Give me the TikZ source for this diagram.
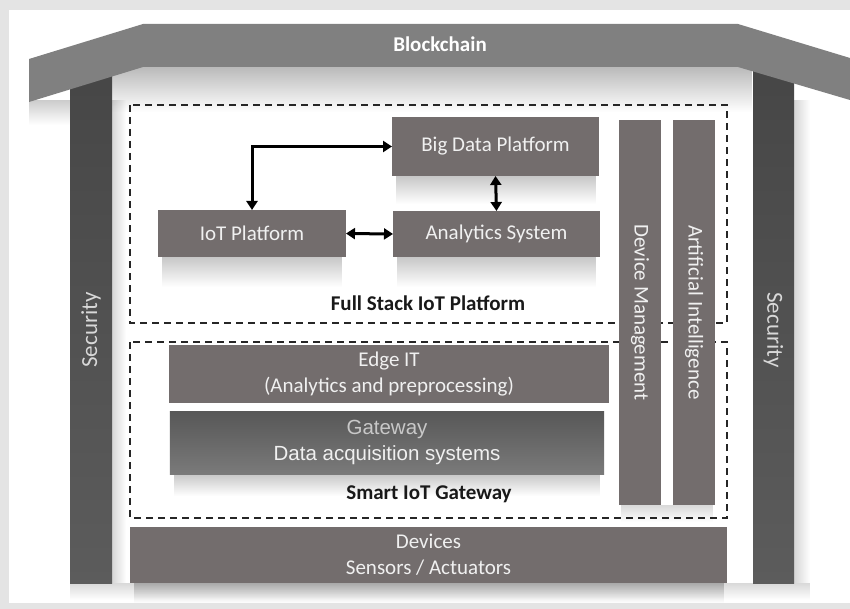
\documentclass[tikz,border=0pt]{standalone}
\usepackage{fontspec}
\setmainfont{Carlito}
\newfontfamily\arialfont{Liberation Sans}
\usetikzlibrary{arrows.meta,fadings}
\definecolor{boxgray}{HTML}{736D6D}
\definecolor{pillardark}{HTML}{464646}
\definecolor{pillar}{HTML}{5C5C5C}
\definecolor{roofgray}{HTML}{808080}
\definecolor{bgout}{HTML}{E4E4E4}
\definecolor{boxtext}{HTML}{F0F0F0}
\definecolor{sectext}{HTML}{D8D8D8}
\definecolor{gwtop}{HTML}{575757}
\definecolor{gwbot}{HTML}{7A7A7A}
\definecolor{gwtext}{HTML}{C8C8C8}
\begin{document}
\begin{tikzpicture}[x=1bp,y=-1bp,
  every node/.style={inner sep=0pt, outer sep=0pt},
  txt/.style={font=\fontsize{21bp}{26bp}\selectfont},
  shadowband/.style={fill=black, opacity=0.22, path fading=south},
  sideband/.style={fill=black, opacity=0.16, path fading=east},
  blk/.style={txt, fill=boxgray, text=boxtext, align=center},
  column/.style={txt, fill=boxgray, text=boxtext, rotate=-90, minimum width=385bp, minimum height=42bp},
  sectxt/.style={font=\fontsize{23bp}{26bp}\selectfont, text=sectext},
  group/.style={draw=black!85, line width=1.6bp, dash pattern=on 7bp off 5bp},
  grouplabel/.style={font=\fontsize{21bp}{26bp}\selectfont\bfseries, text=black!90},
  conn/.style={line width=3bp, {Triangle[length=9bp,width=11bp]}-{Triangle[length=9bp,width=11bp]}}
]
\useasboundingbox (0,0) rectangle (850,609);
% background
\fill[bgout] (0,0) rectangle (850,609);
\fill[white] (9,10) rectangle (850,603);
% shadows under roof, beside and below pillars
\fill[shadowband, opacity=0.28] (112,66) rectangle (753,112);
\fill[shadowband, opacity=0.2] (29,100) rectangle (70,125);
\fill[sideband] (112,100) rectangle (126,583);
\fill[sideband] (794,100) rectangle (810,583);
\fill[shadowband, opacity=0.15] (70,583) rectangle (810,600);
% security pillars
\shade[top color=pillardark, bottom color=pillar] (70,60) rectangle (112,583);
\shade[top color=pillardark, bottom color=pillar] (753,60) rectangle (794,583);
\node[sectxt, rotate=90] (secL) at (91,330) {Security};
\node[sectxt, rotate=-90] (secR) at (773.5,330) {Security};
% roof
\fill[roofgray] (29,59) -- (143,24) -- (738,24) -- (850,58) -- (850,100) -- (738,67) -- (143,67) -- (29,102) -- cycle;
\node[font=\fontsize{21bp}{26bp}\selectfont\bfseries, text=white] (roof) at (440,44) {Blockchain};
% dashed groups
\draw[group] (130,105) rectangle (727,323);
\draw[group] (130,342) rectangle (727,518);
% soft shadows below the boxes
\fill[shadowband] (396,176) rectangle (596,204);
\fill[shadowband] (162,257) rectangle (342,287);
\fill[shadowband] (397,257) rectangle (596,287);
\fill[shadowband] (174,474) rectangle (600,496);
\fill[shadowband] (134,583) rectangle (724,603);
\fill[shadowband, opacity=0.15] (621,505) rectangle (713,522);
% boxes of the full stack platform
\node[blk, minimum width=207bp, minimum height=59bp] (bigdata) at (495.5,146.5) {Big Data Platform};
\node[blk, minimum width=188bp, minimum height=47bp] (iot) at (252,233.5) {IoT Platform};
\node[blk, minimum width=207bp, minimum height=46bp] (analytics) at (496.5,234) {Analytics System};
% gateway boxes
\node[blk, minimum width=440bp, minimum height=58bp] (edge) at (389,374) {Edge IT\\(Analytics and preprocessing)};
\node[top color=gwtop, bottom color=gwbot, align=center, minimum width=434bp, minimum height=63bp, font=\arialfont\fontsize{20.5bp}{26bp}\selectfont, text=boxtext] (gw) at (387,442.5) {\textcolor{gwtext}{Gateway}\\Data acquisition systems};
% devices
\node[blk, minimum width=597bp, minimum height=56bp] (dev) at (428.5,555) {Devices\\Sensors / Actuators};
% vertical columns
\node[column] (devmgmt) at (640,312.5) {Device Management};
\node[column] (ai) at (694,312.5) {Artificial Intelligence};
% group labels
\node[grouplabel] (fslabel) at (428,303) {Full Stack IoT Platform};
\node[grouplabel] (gwlabel) at (429,494) {Smart IoT Gateway};
% connectors
\draw[conn] (iot.north) |- (bigdata.west);
\draw[conn] (iot.east) -- (analytics.west);
\draw[conn] (bigdata.south) -- (analytics.north);
\end{tikzpicture}
\end{document}
